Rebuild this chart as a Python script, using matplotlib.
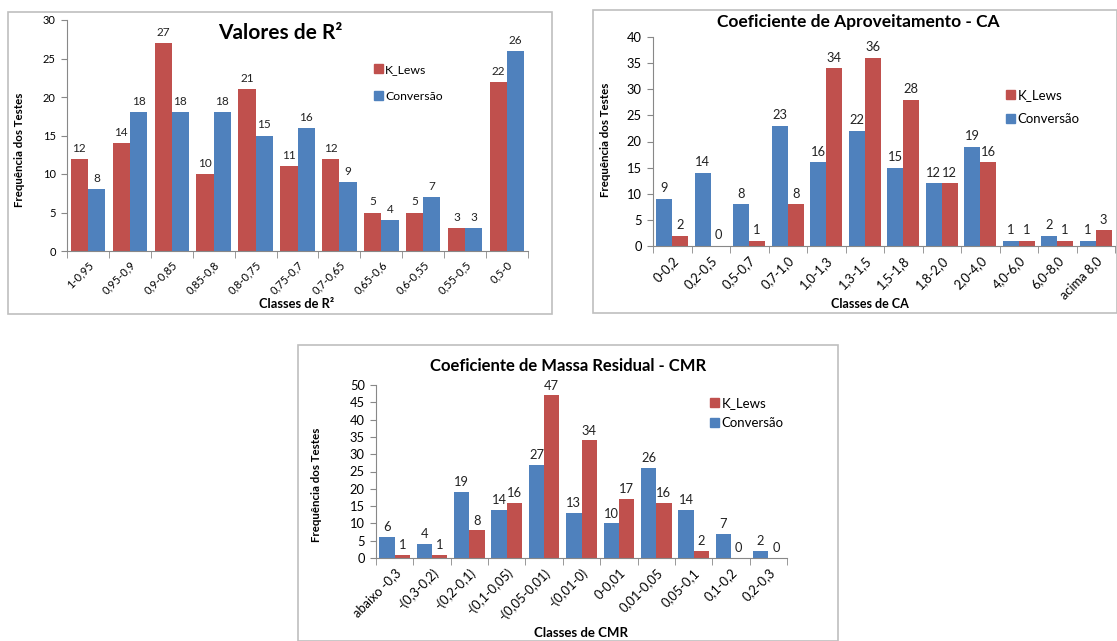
import matplotlib
matplotlib.use('Agg')
import matplotlib.pyplot as plt
from matplotlib.patches import Rectangle, Patch
import numpy as np

plt.rcParams['font.family'] = ['Lato', 'DejaVu Sans']

# dados
classes_r2 = ['1-0,95', '0,95-0,9', '0,9-0,85', '0,85-0,8', '0,8-0,75', '0,75-0,7',
              '0,7-0,65', '0,65-0,6', '0,6-0,55', '0,55-0,5', '0,5-0']
klews_r2 = [12, 14, 27, 10, 21, 11, 12, 5, 5, 3, 22]
conv_r2 = [8, 18, 18, 18, 15, 16, 9, 4, 7, 3, 26]

classes_ca = ['0-0,2', '0,2-0,5', '0,5-0,7', '0,7-1,0', '1,0-1,3', '1,3-1,5', '1,5-1,8',
              '1,8-2,0', '2,0-4,0', '4,0-6,0', '6,0-8,0', 'acima 8,0']
conv_ca = [9, 14, 8, 23, 16, 22, 15, 12, 19, 1, 2, 1]
klews_ca = [2, 0, 1, 8, 34, 36, 28, 12, 16, 1, 1, 3]

classes_cmr = ['abaixo -0,3', '-(0,3-0,2)', '-(0,2-0,1)', '-(0,1-0,05)', '-(0,05-0,01)',
               '-(0,01-0)', '0-0,01', '0,01-0,05', '0,05-0,1', '0,1-0,2', '0,2-0,3']
conv_cmr = [6, 4, 19, 14, 27, 13, 10, 26, 14, 7, 2]
klews_cmr = [1, 1, 8, 16, 47, 34, 17, 16, 2, 0, 0]

RED = '#C0504D'
BLUE = '#4F81BD'
W, H = 1117, 641

fig = plt.figure(figsize=(W / 100, H / 100), dpi=100)


def px(x, y):
    return x / W, 1 - y / H


def caixa(x0, y0, x1, y1):
    fig.patches.append(Rectangle(px(x0, y1), (x1 - x0) / W, (y1 - y0) / H,
                                 transform=fig.transFigure, fill=False,
                                 edgecolor='#BFBFBF', lw=1.2))


def painel(rect, classes, s1, s2, c1, c2, ymax, fs_tick, fs_val):
    x0, y0, x1, y1 = rect
    ax = fig.add_axes([x0 / W, 1 - y1 / H, (x1 - x0) / W, (y1 - y0) / H])
    n = len(classes)
    x = np.arange(n)
    w = 0.41
    b1 = ax.bar(x - w / 2, s1, w, color=c1)
    b2 = ax.bar(x + w / 2, s2, w, color=c2)
    for bars, vals in ((b1, s1), (b2, s2)):
        for r, v in zip(bars, vals):
            ax.text(r.get_x() + r.get_width() / 2, v + ymax * 0.022, str(v),
                    ha='center', va='bottom', fontsize=fs_val, color='#222222')
    ax.set_xlim(-0.5, n - 0.5)
    ax.set_ylim(0, ymax)
    ax.set_yticks(np.arange(0, ymax + 1, 5))
    ax.set_xticks(x)
    ax.set_xticklabels(classes, rotation=45, ha='right', rotation_mode='anchor',
                       fontsize=fs_tick)
    ax.set_xticks(np.arange(-0.5, n, 1), minor=True)
    ax.tick_params(axis='x', which='major', length=0, pad=6)
    ax.tick_params(axis='x', which='minor', length=5, color='#888888')
    ax.tick_params(axis='y', length=4, color='#888888', labelsize=fs_tick, pad=4)
    for s in ('top', 'right'):
        ax.spines[s].set_visible(False)
    for s in ('left', 'bottom'):
        ax.spines[s].set_color('#888888')
    return ax


def legenda(ax, x, y, spacing, fs):
    h = [Patch(color=RED), Patch(color=BLUE)]
    ax.legend(h, ['K_Lews', 'Conversão'], loc='upper left',
              bbox_to_anchor=px(x, y), bbox_transform=fig.transFigure,
              frameon=False, fontsize=fs, handlelength=0.7, handleheight=0.7,
              handletextpad=0.2, labelspacing=spacing, borderpad=0, borderaxespad=0)


# painel R2
caixa(8, 12, 552, 314)
ax1 = painel((67, 20, 528, 251), classes_r2, klews_r2, conv_r2, RED, BLUE, 30, 8, 8.5)
fig.text(*px(280, 33), 'Valores de R²', ha='center', va='center', fontsize=15, fontweight='bold')
fig.text(*px(20, 150), 'Frequência dos Testes', rotation=90, ha='center', va='center',
         fontsize=8.3, fontweight='bold')
fig.text(*px(297, 304), 'Classes de R²', ha='center', va='center', fontsize=9.3, fontweight='bold')
legenda(ax1, 374, 64, 1.3, 8.8)

# painel CA
caixa(593, 10, 1117, 313)
ax2 = painel((653, 37, 1115, 246), classes_ca, conv_ca, klews_ca, BLUE, RED, 40, 9.3, 9.3)
fig.text(*px(858, 22), 'Coeficiente de Aproveitamento - CA', ha='center', va='center',
         fontsize=12.5, fontweight='bold')
fig.text(*px(606, 140), 'Frequência dos Testes', rotation=90, ha='center', va='center',
         fontsize=8.3, fontweight='bold')
fig.text(*px(870, 304), 'Classes de CA', ha='center', va='center', fontsize=9, fontweight='bold')
legenda(ax2, 1006, 89, 0.9, 9.5)

# painel CMR
caixa(298, 345, 838, 641)
ax3 = painel((376, 385, 787, 558), classes_cmr, conv_cmr, klews_cmr, BLUE, RED, 50, 9.3, 9.3)
fig.text(*px(568, 366), 'Coeficiente de Massa Residual - CMR', ha='center', va='center',
         fontsize=12, fontweight='bold')
fig.text(*px(316, 485), 'Frequência dos Testes', rotation=90, ha='center', va='center',
         fontsize=8.3, fontweight='bold')
fig.text(*px(581, 633), 'Classes de CMR', ha='center', va='center', fontsize=9.5, fontweight='bold')
legenda(ax3, 710, 397, 0.6, 9.5)

fig.savefig('out.png', dpi=100, facecolor='white')
